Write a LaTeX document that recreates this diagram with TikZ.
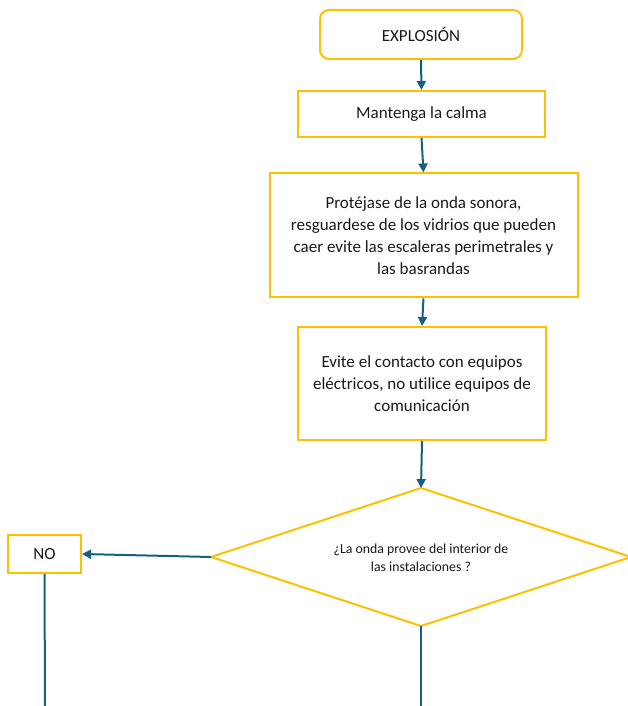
\documentclass[tikz,border=0pt]{standalone}
\usepackage{fontspec}
\setmainfont{Carlito}[Ligatures={NoCommon}]
\usetikzlibrary{arrows.meta}
\definecolor{gold}{HTML}{FFC000}
\definecolor{arrowblue}{HTML}{156082}
\definecolor{txt}{HTML}{1A1A1A}
\tikzset{
  boxstyle/.style={draw=gold, line width=2pt, fill=white, rectangle, inner sep=2pt, align=center, text=txt, font=\fontsize{17}{22}\selectfont},
  flow/.style={draw=arrowblue, line width=2pt, -{Triangle[length=9pt,width=9pt]}},
  plain/.style={draw=arrowblue, line width=2pt},
  diashape/.style={draw=gold, line width=2pt, fill=white, line join=miter},
  diatext/.style={align=center, text=txt, font=\fontsize{13.8}{18}\selectfont, inner sep=0pt}
}
\begin{document}
\begin{tikzpicture}[x=1pt,y=1pt]
\useasboundingbox (0,0) rectangle (628,706);
\node[boxstyle, rounded corners=9pt, minimum width=202pt, minimum height=49pt] (exp) at (421,671.5) {EXPLOSIÓN};
\node[boxstyle, minimum width=247pt, minimum height=46pt] (calma) at (421.5,592) {Mantenga la calma};
\node[boxstyle, minimum width=308pt, minimum height=124pt] (prot) at (423.5,470.5) {Protéjase de la onda sonora,\\resguardese de los vidrios que pueden\\caer evite las escaleras perimetrales y\\las basrandas};
\node[boxstyle, minimum width=248pt, minimum height=113pt] (evite) at (422,322.5) {Evite el contacto con equipos\\eléctricos, no utilice equipos de\\comunicación};
% decision diamond
\coordinate (diatop) at (421,218);
\coordinate (diabot) at (421,80);
\coordinate (dialeft) at (211,149);
\coordinate (diaright) at (631,149);
\draw[diashape] (diatop) -- (diaright) -- (diabot) -- (dialeft) -- cycle;
\node[diatext] (dia) at (421,148.5) {¿La onda provee del interior de\\las instalaciones ?};
\node[boxstyle, minimum width=73pt, minimum height=38pt] (no) at (44.5,152) {NO};
\coordinate (noend) at (45,0);
\coordinate (diaend) at (421,0);
\draw[flow] (exp.south) -- (calma.north);
\draw[flow] (calma.south) -- (prot.north);
\draw[flow] (prot.south) -- (evite.north);
\draw[flow] (evite.south) -- (diatop);
\draw[flow] (dialeft) -- (no.east);
\draw[plain] (no.south) -- (noend);
\draw[plain] (diabot) -- (diaend);
\end{tikzpicture}
\end{document}
